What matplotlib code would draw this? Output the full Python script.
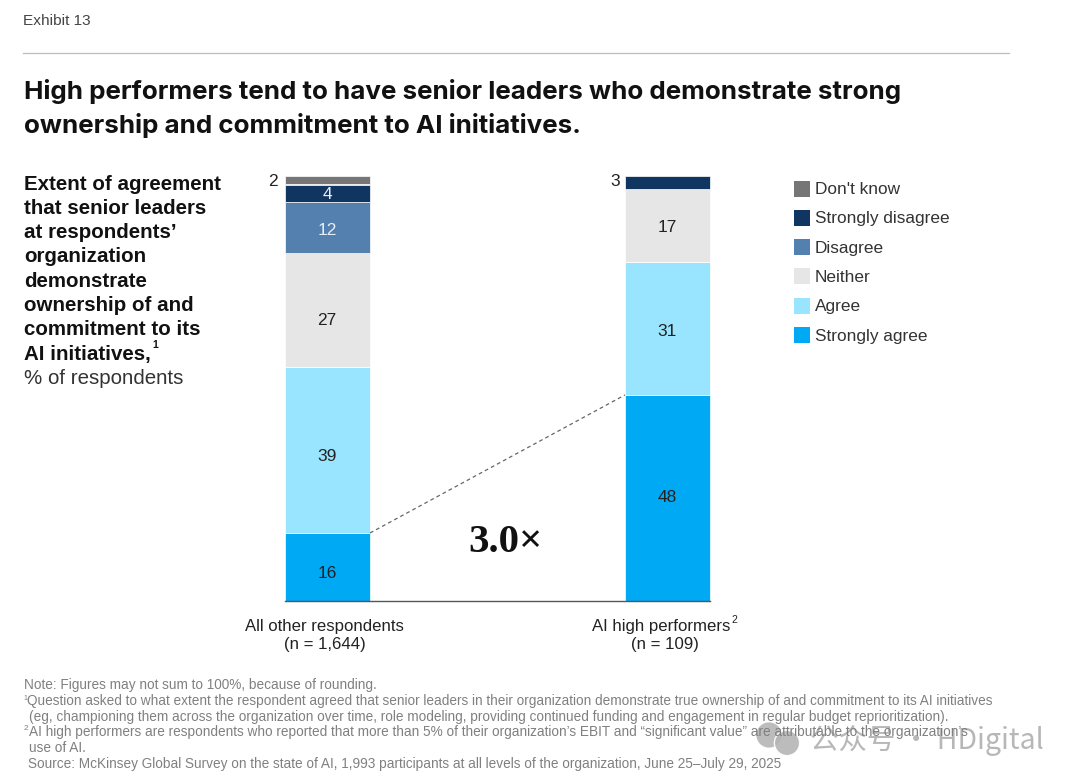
import matplotlib
matplotlib.use('Agg')
import matplotlib.pyplot as plt
from matplotlib.patches import Rectangle

categories = ['All other respondents', 'AI high performers']
sample_sizes = ['(n = 1,644)', '(n = 109)']
legend_labels = ["Don't know", 'Strongly disagree', 'Disagree', 'Neither', 'Agree', 'Strongly agree']

# bottom to top
strongly_agree = [16, 48]
agree = [39, 31]
neither = [27, 17]
disagree = [12, 0]
strongly_disagree = [4, 3]
dont_know = [2, 0]

series = [strongly_agree, agree, neither, disagree, strongly_disagree, dont_know]
colors = ['#00A9F4', '#99E5FF', '#E6E6E6', '#5380AF', '#0F3560', '#767676']
text_colors = ['#222222', '#222222', '#222222', '#E8EEF4', '#E8EEF4', '#E8EEF4']
# the labels are not quite centred in the reference, offsets in pixels
label_nudge = [[7, 0], [6, 3], [11, 2], [4, 0], [2, 0], [0, 0]]

plt.rcParams['font.family'] = ['Liberation Sans', 'DejaVu Sans']
W, H = 1080, 781
fig = plt.figure(figsize=(W / 100, H / 100), dpi=100)

# watermark sits under the text
wm = fig.add_axes([0, 0, 1, 1], zorder=0)
wm.set_xlim(0, W)
wm.set_ylim(H, 0)
wm.axis('off')
wm.text(810, 740, '\u516c\u4f17\u53f7 \u00b7 HDigital', family=['Noto Sans CJK SC', 'DejaVu Sans'], fontsize=20.5,
        color='#B0B0B0', alpha=0.9, va='center')
wm.scatter([769, 787], [735, 743], s=[330, 330], color='#B5B5B5', edgecolors='white', linewidths=[0, 1], alpha=0.9)

# page layer works in pixels, y going down, so text lines up with the reference
page = fig.add_axes([0, 0, 1, 1], zorder=1)
page.set_xlim(0, W)
page.set_ylim(H, 0)
page.axis('off')

page.text(23, 21, 'Exhibit 13', fontsize=11.1, color='#444444', va='center')
page.plot([23, 1009], [53, 53], color='#BDBDBD', lw=0.9)
page.text(24, 91, 'High performers tend to have senior leaders who demonstrate strong',
          family=['Inter', 'Liberation Sans'], fontsize=18.7, weight='bold', color='#111111', va='center')
page.text(24, 125, 'ownership and commitment to AI initiatives.',
          family=['Inter', 'Liberation Sans'], fontsize=18.7, weight='bold', color='#111111', va='center')

side_lines = ['Extent of agreement', 'that senior leaders', 'at respondents\u2019', 'organization',
              'demonstrate', 'ownership of and', 'commitment to its', 'AI initiatives,']
y = 184
for line in side_lines:
    page.text(24, y, line, fontsize=14.8, weight='bold', color='#111111', va='center')
    y += 24.3
page.text(152, 345, '1', fontsize=7.5, weight='bold', color='#111111', va='center')
page.text(24, y, '% of respondents', fontsize=14.8, color='#333333', va='center')

# bars, normalised because the drawn stacks all reach the same height
ax = fig.add_axes([0, (H - 601) / H, 1, 425 / H], zorder=2)
ax.set_xlim(0, W)
ax.set_ylim(0, 100)
ax.axis('off')
ax.patch.set_alpha(0)

bar_x = [327, 667.5]
for i, x in enumerate(bar_x):
    total = sum(s[i] for s in series)
    bottom = 0
    for s, col, tc, nudge in zip(series, colors, text_colors, label_nudge):
        v = s[i] / total * 100
        if v == 0:
            continue
        ax.bar(x, v, width=85, bottom=bottom, color=col, edgecolor='white', linewidth=0.5)
        if s[i] > 3:
            ax.text(x, bottom + v / 2 - nudge[i] / 4.25, str(s[i]), ha='center', va='center',
                    fontsize=12.5, color=tc)
        bottom += v

page.text(278, 181, '2', fontsize=12.5, color='#222222', ha='right', va='center')
page.text(620, 181, '3', fontsize=12.5, color='#222222', ha='right', va='center')

# connector between the two "strongly agree" tops
ax.plot([370, 625], [strongly_agree[0] / sum(s[0] for s in series) * 100,
                     strongly_agree[1] / sum(s[1] for s in series) * 100],
        color='#666666', lw=0.9, ls=(0, (3, 2.5)))
ax.plot([285, 710], [0, 0], color='#555555', lw=1.0, clip_on=False)
page.text(505, 542, '3.0\u00d7', family=['Liberation Serif', 'DejaVu Serif'], fontsize=29.5, weight='bold',
          color='#111111', ha='center', va='center')

cat_x = [324.5, 661.5]
n_x = [324.5, 665]
for cx, nx, cat, n in zip(cat_x, n_x, categories, sample_sizes):
    page.text(cx, 626, cat, fontsize=12.1, color='#222222', ha='center', va='center')
    page.text(nx, 644, n, fontsize=12.1, color='#222222', ha='center', va='center')
page.text(731, 620, '2', fontsize=7.5, color='#222222', ha='left', va='center')

# legend
ly = 188.5
for lab, col in zip(legend_labels, colors[::-1]):
    page.add_patch(Rectangle((794, ly - 8), 16, 16, facecolor=col, edgecolor='none'))
    page.text(815, ly + 1, lab, fontsize=12.4, color='#333333', va='center')
    ly += 29.3

notes = [
    (24, 685, 'Note: Figures may not sum to 100%, because of rounding.'),
    (27, 701, 'Question asked to what extent the respondent agreed that senior leaders in their organization demonstrate true ownership of and commitment to its AI initiatives'),
    (29, 717, '(eg, championing them across the organization over time, role modeling, providing continued funding and engagement in regular budget reprioritization).'),
    (29, 732, 'AI high performers are respondents who reported that more than 5% of their organization\u2019s EBIT and \u201csignificant value\u201d are attributable to the organization\u2019s'),
    (29, 748, 'use of AI.'),
    (28, 764, 'Source: McKinsey Global Survey on the state of AI, 1,993 participants at all levels of the organization, June 25\u2013July 29, 2025'),
]
for x, y, t in notes:
    page.text(x, y, t, fontsize=9.85, color='#808080', va='center')
page.text(23.5, 698, '1', fontsize=5, color='#808080', va='center')
page.text(24, 729, '2', fontsize=6, color='#808080', va='center')

fig.savefig('out.png', dpi=100)
